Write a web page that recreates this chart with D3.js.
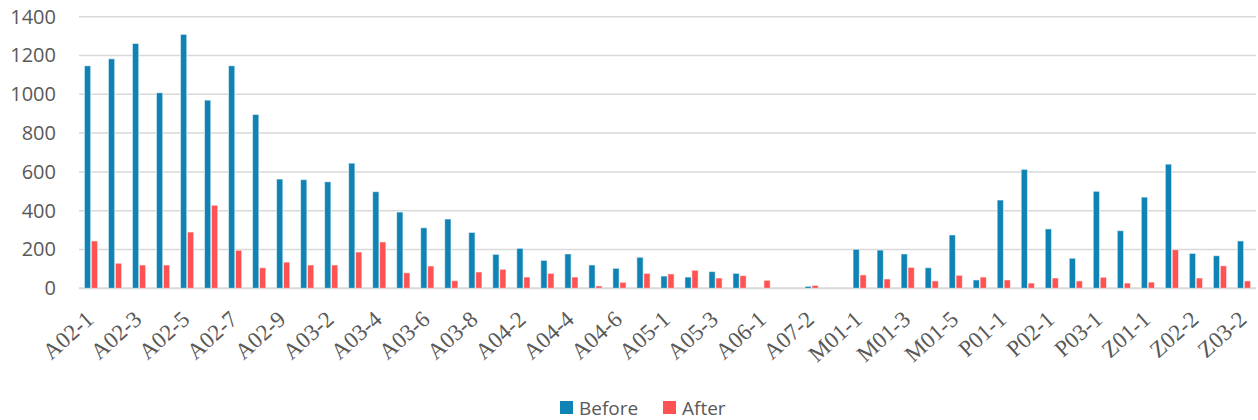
<!DOCTYPE html>
<html>
<head>
<meta charset="utf-8">
<script src="https://cdn.jsdelivr.net/npm/d3@7/dist/d3.min.js"></script>
<style>
  html, body { margin: 0; padding: 0; background: #fff; }
  svg { display: block; }
  .xlab text { font-family: "Liberation Serif", "Times New Roman", serif; }
</style>
</head>
<body>
<svg id="chart" width="1258" height="420"></svg>
<script>
// Sample points along the x axis
const categories = [
  "A02-1","A02-2","A02-3","A02-4","A02-5","A02-6","A02-7","A02-8","A02-9",
  "A03-1","A03-2","A03-3","A03-4","A03-5","A03-6","A03-7","A03-8",
  "A04-1","A04-2","A04-3","A04-4","A04-5","A04-6","A04-7",
  "A05-1","A05-2","A05-3","A05-4","A06-1","A07-1","A07-2","A07-3",
  "M01-1","M01-2","M01-3","M01-4","M01-5","M01-6",
  "P01-1","P01-2","P02-1","P02-2","P03-1","P03-2",
  "Z01-1","Z02-1","Z02-2","Z03-1","Z03-2"
];

// Measured values before and after treatment
const before = [
  1147,1183,1262,1008,1309,970,1147,896,563,
  560,549,645,498,393,312,357,288,
  175,206,144,177,120,103,160,
  63,58,86,77,0,0,10,0,
  201,197,177,106,275,43,
  455,613,306,155,500,297,
  470,640,180,168,244
];
const after = [
  244,129,120,120,290,428,196,106,135,
  120,120,187,239,80,115,39,84,
  98,58,77,58,12,31,77,
  74,93,53,65,41,0,15,0,
  69,48,108,38,67,58,
  43,27,53,38,57,27,
  32,199,53,116,38
];

const seriesNames = ["Before", "After"];
const seriesColors = ["#0F83B3", "#FF5252"];
const yTicks = [0, 200, 400, 600, 800, 1000, 1200, 1400];

const svg = d3.select("#chart");
const plotLeft = 79, plotRight = 1256, plotTop = 16.7, plotBottom = 288.3;

const x = d3.scaleBand()
  .domain(categories)
  .range([plotLeft, plotRight])
  .paddingInner(0.45)
  .paddingOuter(0.225);

const x1 = d3.scaleBand()
  .domain(seriesNames)
  .range([0, x.bandwidth()])
  .paddingInner(0.1);

const y = d3.scaleLinear().domain([0, 1400]).range([plotBottom, plotTop]);

// Horizontal gridlines
svg.append("g")
  .selectAll("line")
  .data(yTicks)
  .join("line")
  .attr("x1", plotLeft)
  .attr("x2", plotRight)
  .attr("y1", d => y(d))
  .attr("y2", d => y(d))
  .attr("stroke", "#d9d9d9")
  .attr("stroke-width", d => d === 0 ? 2 : 1.5);

// Y axis labels
const yAxis = d3.axisLeft(y).tickValues(yTicks).tickFormat(d3.format("d")).tickSize(0).tickPadding(0);
const yg = svg.append("g")
  .attr("transform", "translate(56,0)")
  .call(yAxis);
yg.select(".domain").remove();
yg.selectAll("text")
  .attr("fill", "#595959")
  .style("font-family", "'Open Sans', 'Noto Sans', sans-serif")
  .style("font-size", "20px");

// Bars
const rows = categories.map((c, i) => ({ cat: c, values: [before[i], after[i]] }));
const groups = svg.append("g")
  .selectAll("g")
  .data(rows)
  .join("g")
  .attr("transform", d => `translate(${x(d.cat)},0)`);

groups.selectAll("rect")
  .data(d => d.values.map((v, k) => ({ key: seriesNames[k], value: v, color: seriesColors[k] })))
  .join("rect")
  .filter(d => d.value > 0)
  .attr("x", d => x1(d.key))
  .attr("width", x1.bandwidth())
  .attr("y", d => y(d.value))
  .attr("height", d => y(0) - y(d.value))
  .attr("fill", d => d.color)
  .attr("stroke", "rgba(255,255,255,0.55)")
  .attr("stroke-width", 1);

// X axis labels (every other category), rotated
const xAxis = d3.axisBottom(x)
  .tickValues(categories.filter((c, i) => i % 2 === 0))
  .tickSize(0)
  .tickPadding(0);
const xg = svg.append("g")
  .attr("class", "xlab")
  .attr("transform", `translate(0,${plotBottom})`)
  .call(xAxis)
  .attr("font-family", null);
xg.select(".domain").remove();
xg.selectAll("text")
  .attr("fill", "#595959")
  .attr("font-family", "Liberation Serif")
  .style("font-size", "23px")
  .attr("text-anchor", "end")
  .attr("y", 0)
  .attr("dy", 0)
  .attr("transform", "translate(4,33) rotate(-42)");

// Legend
const legend = svg.append("g").attr("transform", "translate(560,401)");
const items = legend.selectAll("g")
  .data(seriesNames)
  .join("g")
  .attr("transform", (d, i) => `translate(${i * 103},0)`);
items.append("rect")
  .attr("width", 13)
  .attr("height", 13)
  .attr("fill", (d, i) => seriesColors[i]);
items.append("text")
  .attr("x", 19)
  .attr("y", 7)
  .attr("dy", "0.36em")
  .attr("fill", "#595959")
  .style("font-family", "'Open Sans', 'Noto Sans', sans-serif")
  .style("font-size", "19px")
  .text(d => d);
</script>
</body>
</html>
